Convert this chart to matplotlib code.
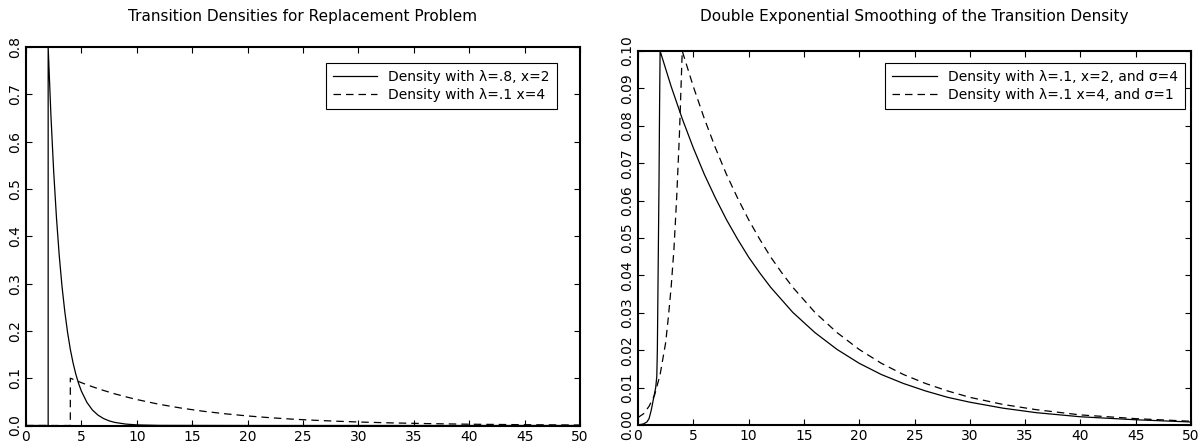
import matplotlib
matplotlib.use('Agg')
import matplotlib.pyplot as plt
from matplotlib.ticker import FormatStrFormatter

# Left panel: raw transition densities
left_solid_x = [0, 2, 2, 2.25, 2.5, 2.75, 3, 3.25, 3.5, 3.75, 4, 4.25, 4.5, 4.75, 5,
                5.5, 6, 6.5, 7, 7.5, 8, 9, 10, 12, 20, 50]
left_solid_y = [0, 0, 0.8, 0.655, 0.536, 0.439, 0.359, 0.294, 0.241, 0.197, 0.161,
                0.132, 0.108, 0.0886, 0.0726, 0.0487, 0.0326, 0.0219, 0.0147, 0.0098,
                0.0066, 0.003, 0.0013, 0.0003, 0.0, 0.0]
left_dash_x = [0, 4, 4, 5, 6, 7, 8, 9, 10, 12, 14, 16, 18, 20, 22, 24, 26, 28, 30,
               33, 36, 40, 45, 50]
left_dash_y = [0, 0, 0.1, 0.0905, 0.0819, 0.0741, 0.067, 0.0607, 0.0549, 0.0449,
               0.0368, 0.0301, 0.0247, 0.0202, 0.0165, 0.0135, 0.0111, 0.0091, 0.0074,
               0.0055, 0.0041, 0.0027, 0.0017, 0.001]

# Right panel: smoothed densities
right_solid_x = [0, 0.5, 0.8, 1.0, 1.2, 1.4, 1.6, 1.7, 1.75, 1.8, 1.85, 1.9, 1.95, 2.0,
                 3, 4, 5, 6, 7, 8, 9, 10, 11, 12, 14, 16, 18, 20, 22, 24, 26, 28, 30,
                 33, 36, 40, 45, 50]
right_solid_y = [0, 0.0003, 0.0008, 0.0017, 0.004, 0.007, 0.010, 0.013, 0.02, 0.035,
                 0.05, 0.065, 0.085, 0.1, 0.0905, 0.0819, 0.0741, 0.067, 0.0607, 0.0549,
                 0.0497, 0.0449, 0.0407, 0.0368, 0.0301, 0.0247, 0.0202, 0.0165, 0.0135,
                 0.0111, 0.0091, 0.0074, 0.0061, 0.0045, 0.0033, 0.0022, 0.0014, 0.0008]
right_dash_x = [0, 0.5, 1, 1.5, 2, 2.5, 2.75, 3, 3.25, 3.5, 3.75, 4, 5, 6, 7, 8, 9, 10,
                11, 12, 13, 14, 16, 18, 20, 22, 24, 26, 28, 30, 33, 36, 40, 45, 50]
right_dash_y = [0.002, 0.003, 0.005, 0.008, 0.0135, 0.022, 0.029, 0.037, 0.047, 0.061,
                0.078, 0.1, 0.0905, 0.0819, 0.0741, 0.067, 0.0607, 0.0549, 0.0497,
                0.0449, 0.0407, 0.0368, 0.0301, 0.0247, 0.0202, 0.0165, 0.0135, 0.0111,
                0.0091, 0.0074, 0.0055, 0.0041, 0.0027, 0.0017, 0.001]

x_ticks = list(range(0, 51, 5))
left_y_ticks = [0.0, 0.1, 0.2, 0.3, 0.4, 0.5, 0.6, 0.7, 0.8]
right_y_ticks = [0.00, 0.01, 0.02, 0.03, 0.04, 0.05, 0.06, 0.07, 0.08, 0.09, 0.10]

plt.rcParams['font.family'] = ['DejaVu Sans']
W, H = 1203, 448
fig = plt.figure(figsize=(W / 100, H / 100), dpi=100)

# axes boxes in pixels: left, top, right, bottom
ax1 = fig.add_axes([26 / W, 1 - 425.5 / H, (580 - 26) / W, (425.5 - 47) / H])
ax2 = fig.add_axes([638 / W, 1 - 425 / H, (1191 - 638) / W, (425 - 51) / H])

dash = (6, 4)
ax1.plot(left_solid_x, left_solid_y, color='black', lw=0.9, label='Density with λ=.8, x=2')
ax1.plot(left_dash_x, left_dash_y, color='black', lw=0.9, dashes=dash, label='Density with λ=.1 x=4')
ax2.plot(right_solid_x, right_solid_y, color='black', lw=0.9,
         label='Density with λ=.1, x=2, and σ=4')
ax2.plot(right_dash_x, right_dash_y, color='black', lw=0.9, dashes=dash,
         label='Density with λ=.1 x=4, and σ=1')

ax1.set_ylim(0, 0.8)
ax1.set_yticks(left_y_ticks)
ax1.yaxis.set_major_formatter(FormatStrFormatter('%.1f'))
ax2.set_ylim(0, 0.1)
ax2.set_yticks(right_y_ticks)
ax2.yaxis.set_major_formatter(FormatStrFormatter('%.2f'))

# titles at a fixed height above both panels
fig.text(303 / W, 1 - 16 / H, 'Transition Densities for Replacement Problem',
         fontsize=11, ha='center', va='center')
fig.text(914 / W, 1 - 16 / H, 'Double Exponential Smoothing of the Transition Density',
         fontsize=11, ha='center', va='center')

for ax in (ax1, ax2):
    ax.set_xlim(0, 50)
    ax.set_xticks(x_ticks)
    ax.tick_params(direction='in', top=True, right=True, length=4, width=0.8,
                   labelsize=10, pad=3)
    for lab in ax.get_yticklabels():
        lab.set_rotation(90)
        lab.set_va('center')
    for s in ax.spines.values():
        s.set_linewidth(1.5)

leg_opts = dict(loc='upper right', borderaxespad=0, fontsize=10, frameon=True,
                fancybox=False, edgecolor='black', handlelength=3.2, framealpha=1,
                labelspacing=0.3, borderpad=0.5)
ax1.legend(bbox_to_anchor=(0.958, 0.958), **leg_opts).get_frame().set_linewidth(0.8)
ax2.legend(bbox_to_anchor=(0.989, 0.968), **leg_opts).get_frame().set_linewidth(0.8)

fig.savefig('out.png', dpi=100)
